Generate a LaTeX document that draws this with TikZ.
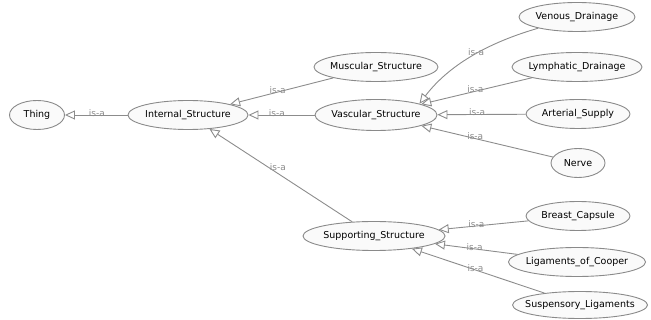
\documentclass[tikz,border=0pt]{standalone}
\usepackage{fontspec}
\setsansfont{DejaVu Sans}
\usetikzlibrary{shapes.geometric,arrows.meta}
\definecolor{linie}{HTML}{8C8C8C}
\definecolor{rand}{HTML}{8A8A8A}
\definecolor{fuellung}{HTML}{FAFAFA}

\begin{document}
\begin{tikzpicture}[x=1pt,y=-1pt,
    klasse/.style={ellipse, draw=rand, fill=fuellung, line width=0.9pt,
        inner xsep=-60pt, inner ysep=0pt, minimum height=29pt,
        font=\sffamily\fontsize{9.5}{11}\selectfont},
    isa/.style={draw=linie, line width=0.9pt,
        -{Triangle[open, fill=white, length=10pt, width=9pt]}},
    isalabel/.style={font=\sffamily\fontsize{9}{10}\selectfont, text=linie,
        inner sep=0pt, yshift=2pt}]
    \useasboundingbox (0,0) rectangle (651,320);
    % Wurzel und erste Ebene:
    \node[klasse, minimum width=55pt] (thing) at (37,115) {Thing};
    \node[klasse, minimum width=120pt] (internal) at (188,115) {Internal\_Structure};
    % zweite Ebene:
    \node[klasse, minimum width=124pt] (muscular) at (376,67) {Muscular\_Structure};
    \node[klasse, minimum width=122pt, minimum height=31pt] (vascular) at (376,115) {Vascular\_Structure};
    \node[klasse, minimum width=142pt] (supporting) at (374,236) {Supporting\_Structure};
    % Blaetter rechts:
    \node[klasse, minimum width=116pt] (venous) at (577,17) {Venous\_Drainage};
    \node[klasse, minimum width=130pt] (lymph) at (577,67) {Lymphatic\_Drainage};
    \node[klasse, minimum width=104pt] (arterial) at (578,114) {Arterial\_Supply};
    \node[klasse, minimum width=54pt] (nerve) at (578,163) {Nerve};
    \node[klasse, minimum width=104pt] (breast) at (578,216) {Breast\_Capsule};
    \node[klasse, minimum width=137pt] (cooper) at (577,262) {Ligaments\_of\_Cooper};
    \node[klasse, minimum width=135pt, minimum height=27pt] (suspensory) at (580,305) {Suspensory\_Ligaments};

    % is-a Kanten, Pfeil zeigt zur Oberklasse
    \draw[isa] (internal) -- node[isalabel, pos=0.49] {is-a} (thing);
    \draw[isa] (muscular) -- node[isalabel, pos=0.54] {is-a} (internal);
    \draw[isa] (vascular) -- node[isalabel, pos=0.57] {is-a} (internal);
    \draw[isa] (supporting) -- node[isalabel, pos=0.52, yshift=4pt] {is-a} (internal);
    \draw[isa] (venous) .. controls (480,45) and (445,70) .. node[isalabel, pos=0.42] {is-a} (vascular.north east);
    \draw[isa] (lymph) -- node[isalabel, pos=0.51] {is-a} (vascular);
    \draw[isa] (arterial) -- node[isalabel, pos=0.55] {is-a} (vascular);
    \draw[isa] (nerve) -- node[isalabel, pos=0.59] {is-a} (vascular);
    \draw[isa] (breast) -- node[isalabel, pos=0.58] {is-a} (supporting);
    \draw[isa] (cooper) -- node[isalabel, pos=0.52] {is-a} (supporting);
    \draw[isa] (suspensory) -- node[isalabel, pos=0.52] {is-a} (supporting);
\end{tikzpicture}
\end{document}
